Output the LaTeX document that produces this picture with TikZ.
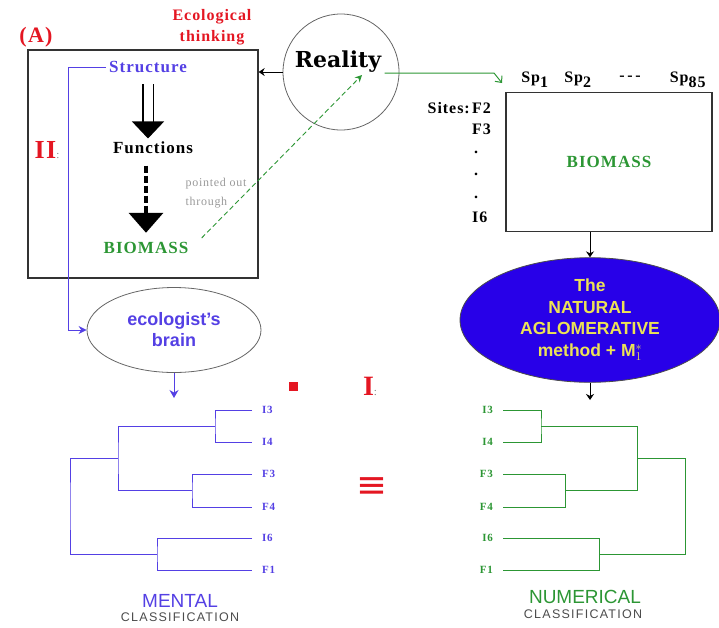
\documentclass[tikz,border=0pt]{standalone}
\usepackage{fontspec}
\setmainfont{Liberation Serif}[LetterSpace=6.0]
\setsansfont{Liberation Sans}
\newfontfamily\realfont{DejaVu Serif}
\newfontfamily\symfont{DejaVu Sans}
\newfontfamily\widesans{Liberation Sans}[LetterSpace=10.0]
\usetikzlibrary{arrows.meta,shapes.geometric}
\definecolor{ecored}{RGB}{228,22,34}
\definecolor{mentblue}{RGB}{84,64,228}
\definecolor{numgreen}{RGB}{44,150,52}
\definecolor{methblue}{RGB}{40,0,232}
\definecolor{methyellow}{RGB}{236,226,86}
\begin{document}
\begin{tikzpicture}[x=1pt,y=-1pt]
\tikzstyle{redlbl} = [text=ecored, font=\bfseries\fontsize{16}{21}\selectfont, align=center] % red headings
\tikzstyle{boxtxt} = [font=\bfseries\fontsize{17}{20}\selectfont] % words in the left box
\tikzstyle{frame} = [draw=black!80, line width=1.3pt, inner sep=0pt] % rectangles
\tikzstyle{sitetxt} = [font=\bfseries\fontsize{16}{18}\selectfont, inner sep=1pt] % sites and species
\tikzstyle{leaf} = [font=\bfseries\fontsize{11}{12}\selectfont, inner xsep=10pt, inner ysep=1pt] % dendrogram leaves
\tikzstyle{mtree} = [draw=mentblue, line width=0.8pt] % mental tree
\tikzstyle{ntree} = [draw=numgreen, line width=0.8pt] % numerical tree
\tikzstyle{smallarrow} = [-{Stealth[length=6pt,width=8pt]}, line width=0.9pt]
\useasboundingbox (0,0) rectangle (719,627);

% левая часть
\node[redlbl, font=\bfseries\fontsize{22}{24}\selectfont] (labA) at (36,37) {(A)};
\node[redlbl] (ecothink) at (212,27) {Ecological\\thinking};
\node[frame, minimum width=230pt, minimum height=228pt] (thinkbox) at (143,164) {};
\node[boxtxt, text=mentblue] (structure) at (148,67) {Structure};
\node[boxtxt] (functions) at (153,148) {Functions};
\node[boxtxt, text=numgreen] (bioL) at (146,248) {BIOMASS};
\node[text=black!40, font=\fontsize{12}{19}\selectfont, align=left] (pointed) at (216,193) {pointed out\\through};
\node[text=ecored, font=\bfseries\fontsize{26}{26}\selectfont] (lblII) at (47,150) {II{\mdseries\fontsize{11}{11}\selectfont\color{black!50}:}};

\draw[double=white, double distance=9pt, line width=1.2pt, shorten <=8pt, -{Triangle[width=32pt,length=17pt]}] (structure.south) -- (structure.south |- functions.north);
\draw[line width=4pt, dash pattern=on 7pt off 3pt, shorten <=8pt, shorten >=6pt, -{Triangle[width=34pt,length=20pt]}] (functions.south -| bioL.north) -- (bioL.north);

% реальность
\node[draw=black!60, circle, minimum size=116pt, line width=0.8pt] (reality) at (341,72) {};
\node[font=\realfont\bfseries\fontsize{22}{24}\selectfont] (realtxt) at (338,62) {Reality};
\coordinate (realtip) at (362,75);
\draw[smallarrow] (reality.west) -- (reality.west -| thinkbox.east);
\draw[numgreen, line width=0.9pt, dash pattern=on 5pt off 3pt, shorten <=14pt, -{Stealth[length=7pt,width=7pt]}] (bioL.east) -- (realtip);

% правая часть
\coordinate (gcorner) at (494,73);
\coordinate (sptip) at (502,83);
\draw[numgreen, line width=1pt, -{Straight Barb[length=5pt,width=9pt]}] (realtxt.east |- gcorner) -- (gcorner) -- (sptip);
\node[sitetxt] (sp1) at (535,80) {Sp$_{\textbf{1}}$};
\node[sitetxt] (sp2) at (578,80) {Sp$_{\textbf{2}}$};
\node[sitetxt] (spdots) at (630,78) {-\,-\,-};
\node[sitetxt] (sp85) at (688,80) {Sp$_{\textbf{85}}$};
\node[frame, minimum width=206pt, minimum height=139pt, boxtxt, text=numgreen] (biobox) at (609,162) {BIOMASS};
\node[sitetxt, anchor=east] (sites) at (471,108) {Sites:};
\node[sitetxt, anchor=west] (sF2) at (471,108) {F2};
\node[sitetxt, anchor=west] (sF3) at (471,129) {F3};
\node[sitetxt] (dot1) at (476,152) {.};
\node[sitetxt] (dot2) at (476,174) {.};
\node[sitetxt] (dot3) at (476,197) {.};
\node[sitetxt, anchor=west] (sI6) at (471,217) {I6};

\node[ellipse, draw=black!70, line width=0.8pt, fill=methblue, minimum width=260pt, minimum height=118pt, text=methyellow, align=center, font=\sffamily\bfseries\fontsize{17.5}{21.5}\selectfont] (method) at (590,320) {The\\NATURAL\\AGLOMERATIVE\\method + M$^{*}_{1}$};
\draw[smallarrow] (method.north |- biobox.south) -- (method.north);
\coordinate (ntop) at (590,400);
\draw[smallarrow] (method.south) -- (ntop);

% мозг эколога
\node[ellipse, draw=black!60, line width=0.8pt, minimum width=174pt, minimum height=85pt, text=mentblue, align=center, font=\sffamily\bfseries\fontsize{18}{21}\selectfont] (brain) at (174,330) {ecologist's\\brain};
\coordinate (bend) at (68,67);
\draw[mentblue, line width=1pt, -{Stealth[length=8pt,width=8pt]}] (structure.west) -- (bend) |- (brain.west);
\coordinate (mtop) at (174,398);
\draw[mentblue, line width=1pt, -{Stealth[length=8pt,width=9pt]}] (brain.south) -- (mtop);

\node[fill=ecored, minimum size=9pt, inner sep=0pt] (redsq) at (293,386) {};
\node[text=ecored, font=\bfseries\fontsize{28}{28}\selectfont] (lblI) at (370,386) {I{\mdseries\fontsize{11}{11}\selectfont\color{black!50}:}};
\node[text=ecored, font=\symfont\fontsize{37}{37}\selectfont] (equiv) at (372,488) {≡};

% ментальная классификация
\node[leaf, text=mentblue, anchor=west] (m1) at (252,410) {I3};
\node[leaf, text=mentblue, anchor=west] (m2) at (252,442) {I4};
\node[leaf, text=mentblue, anchor=west] (m3) at (252,474) {F3};
\node[leaf, text=mentblue, anchor=west] (m4) at (252,507) {F4};
\node[leaf, text=mentblue, anchor=west] (m5) at (252,538) {I6};
\node[leaf, text=mentblue, anchor=west] (m6) at (252,570) {F1};
\coordinate (ma) at (215,426);
\coordinate (mb) at (192,490);
\coordinate (mc) at (157,554);
\coordinate (md) at (118,458);
\coordinate (me) at (70,506);
\draw[mtree] (m1.west) -| (ma) |- (m2.west);
\draw[mtree] (m3.west) -| (mb) |- (m4.west);
\draw[mtree] (m5.west) -| (mc) |- (m6.west);
\draw[mtree] (ma) -| (md) |- (mb);
\draw[mtree] (md) -| (me) |- (mc);
\node[text=mentblue, font=\sffamily\fontsize{19}{20}\selectfont] (mental) at (180,601) {MENTAL};
\node[text=black!70, font=\widesans\fontsize{12.5}{13}\selectfont] (mclass) at (180,617) {CLASSIFICATION};

% численная классификация
\node[leaf, text=numgreen, anchor=east] (n1) at (503,410) {I3};
\node[leaf, text=numgreen, anchor=east] (n2) at (503,442) {I4};
\node[leaf, text=numgreen, anchor=east] (n3) at (503,474) {F3};
\node[leaf, text=numgreen, anchor=east] (n4) at (503,507) {F4};
\node[leaf, text=numgreen, anchor=east] (n5) at (503,538) {I6};
\node[leaf, text=numgreen, anchor=east] (n6) at (503,570) {F1};
\coordinate (na) at (541,426);
\coordinate (nb) at (565,490);
\coordinate (nc) at (599,554);
\coordinate (nd) at (637,458);
\coordinate (ne) at (685,506);
\draw[ntree] (n1.east) -| (na) |- (n2.east);
\draw[ntree] (n3.east) -| (nb) |- (n4.east);
\draw[ntree] (n5.east) -| (nc) |- (n6.east);
\draw[ntree] (na) -| (nd) |- (nb);
\draw[ntree] (nd) -| (ne) |- (nc);
\node[text=numgreen, font=\sffamily\fontsize{19}{20}\selectfont] (numer) at (585,597) {NUMERICAL};
\node[text=black!70, font=\widesans\fontsize{12.5}{13}\selectfont] (nclass) at (583,614) {CLASSIFICATION};
\end{tikzpicture}
\end{document}
